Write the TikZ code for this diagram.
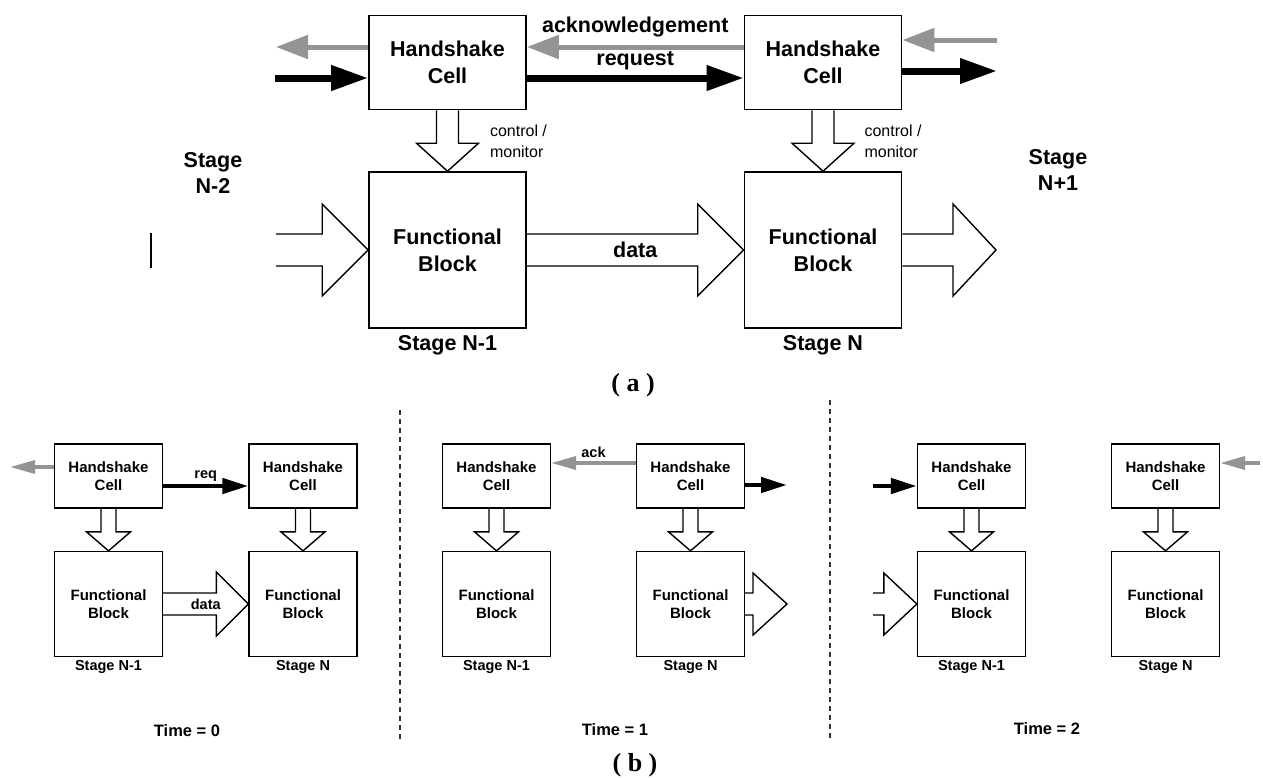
\documentclass[tikz,border=0pt]{standalone}
\usepackage{fontspec}
\setmainfont{Liberation Sans}
\newfontfamily\capfont{Liberation Serif}
\usetikzlibrary{arrows.meta,calc}
\definecolor{ackgray}{gray}{0.58}

\tikzset{
  fat/.style n args={3}{line width=1.4pt,line join=miter,to path={
    ($(\tikztostart)!#1!90:(\tikztotarget)$)
    -- ($($(\tikztotarget)!#3!(\tikztostart)$)!#1!90:(\tikztotarget)$)
    -- ($($(\tikztotarget)!#3!(\tikztostart)$)!#2!90:(\tikztotarget)$)
    -- (\tikztotarget)
    -- ($($(\tikztotarget)!#3!(\tikztostart)$)!#2!-90:(\tikztotarget)$)
    -- ($($(\tikztotarget)!#3!(\tikztostart)$)!#1!-90:(\tikztotarget)$)
    -- ($(\tikztostart)!#1!-90:(\tikztotarget)$)}},
  reqbig/.style={line width=7pt,-{Triangle[length=37pt,width=24pt]}},
  ackbig/.style={draw=ackgray,line width=5pt,-{Triangle[length=32pt,width=23pt]}},
  reqsmall/.style={line width=4.5pt,-{Triangle[length=26pt,width=15pt]}},
  acksmall/.style={draw=ackgray,line width=3.5pt,-{Triangle[length=25pt,width=13pt]}}
}

\begin{document}
\begin{tikzpicture}[x=1pt,y=-1pt,
  hcbig/.style={draw,line width=1.6pt,minimum width=157pt,minimum height=94pt,inner sep=0pt,align=center,font=\fontsize{21.5}{27}\selectfont\bfseries},
  fbbig/.style={hcbig,minimum height=156pt},
  hcsmall/.style={draw,line width=1.3pt,minimum width=108pt,minimum height=64pt,inner sep=0pt,align=center,font=\fontsize{15}{18}\selectfont\bfseries},
  fbsmall/.style={hcsmall,minimum height=105pt},
  lblbig/.style={align=center,inner sep=0pt,font=\fontsize{21.5}{26}\selectfont\bfseries},
  lblsmall/.style={inner sep=0pt,font=\fontsize{14.5}{17}\selectfont\bfseries},
  lbltime/.style={inner sep=0pt,font=\fontsize{16.5}{20}\selectfont\bfseries},
  ctrl/.style={align=left,inner sep=0pt,font=\fontsize{16}{21}\selectfont},
  capt/.style={inner sep=0pt,font=\capfont\fontsize{26}{30}\selectfont\bfseries},
  sep/.style={line width=1.2pt,dash pattern=on 5pt off 4pt,black!80}]

\useasboundingbox (0,0) rectangle (1263,777);

% (a) Nodes
\node[hcbig] (h1) at (447.5,62.5) {Handshake\\Cell};
\node[hcbig,right of=h1,node distance=375.5pt] (h2) {Handshake\\Cell};
\node[fbbig,below of=h1,node distance=187.5pt] (f1) {Functional\\Block};
\node[fbbig,below of=h2,node distance=187.5pt] (f2) {Functional\\Block};
\node[lblbig,below of=f1,node distance=95pt] (sf1) {Stage N-1};
\node[lblbig,below of=f2,node distance=95pt] (sf2) {Stage N};
\node[lblbig] (sn2) at (213,173) {Stage\\N-2};
\node[lblbig] (sn3) at (1058,170) {Stage\\N+1};
\node[ctrl] (c1) at ($(h1.south)+(71,31)$) {control /\\monitor};
\node[ctrl] (c2) at ($(h2.south)+(70,31)$) {control /\\monitor};
\node[lblbig] (dat) at ($(f1.east)!0.5!(f2.west)$) {data};
\node[capt] (capa) at (633,385) {( a )};

\coordinate (gl) at (276,47);
\coordinate (bl) at (275,78);
\coordinate (gr) at (997,40);
\coordinate (br) at (997,71);
\coordinate (din) at (276,250);
\coordinate (dout) at (996,250);

%arcs
\path ([yshift=15.5pt]h1.west) edge[ackbig] (gl);
\path (bl) edge[reqbig] ([yshift=-15.5pt]h1.west);
\path ([yshift=15.5pt]h2.west) edge[ackbig] node[above=7pt,inner sep=0pt,font=\fontsize{21.5}{26}\selectfont\bfseries] (lack) {acknowledgement} ([yshift=15.5pt]h1.east);
\path ([yshift=-15.5pt]h1.east) edge[reqbig] node[above=5pt,inner sep=0pt,font=\fontsize{21.5}{26}\selectfont\bfseries] (lreq) {request} ([yshift=-15.5pt]h2.west);
\path (gr) edge[ackbig] ([yshift=22.5pt]h2.east);
\path ([yshift=-8.5pt]h2.east) edge[reqbig] (br);

\path (h1.south) edge[fat={11pt}{31pt}{28pt}] (f1.north);
\path (h2.south) edge[fat={11pt}{31pt}{28pt}] (f2.north);
\path (din) edge[fat={16pt}{46pt}{46pt}] (f1.west);
\path (f1.east) edge[fat={16pt}{46pt}{46pt}] (f2.west);
\path (f2.east) edge[fat={16pt}{46pt}{43pt}] (dout);

\draw[line width=1.5pt] (151,233) -- (151,268);

% (b) Nodes, time 0
\node[hcsmall] (a0h) at (108.5,476) {Handshake\\Cell};
\node[hcsmall,right of=a0h,node distance=194.5pt] (b0h) {Handshake\\Cell};
\node[fbsmall,below of=a0h,node distance=128pt] (a0f) {Functional\\Block};
\node[fbsmall,below of=b0h,node distance=128pt] (b0f) {Functional\\Block};
\node[lblsmall,below of=a0f,node distance=63pt] (sa0) {Stage N-1};
\node[lblsmall,below of=b0f,node distance=63pt] (sb0) {Stage N};
\node[lblsmall] (dat0) at ($(a0f.east)!0.5!(b0f.west)$) {data};
\node[lbltime] (t0) at (187,731) {Time = 0};

% time 1
\node[hcsmall] (a1h) at (496.5,476) {Handshake\\Cell};
\node[hcsmall,right of=a1h,node distance=194pt] (b1h) {Handshake\\Cell};
\node[fbsmall,below of=a1h,node distance=128pt] (a1f) {Functional\\Block};
\node[fbsmall,below of=b1h,node distance=128pt] (b1f) {Functional\\Block};
\node[lblsmall,below of=a1f,node distance=63pt] (sa1) {Stage N-1};
\node[lblsmall,below of=b1f,node distance=63pt] (sb1) {Stage N};
\node[lbltime] (t1) at (615,730) {Time = 1};

% time 2
\node[hcsmall] (a2h) at (971.5,476) {Handshake\\Cell};
\node[hcsmall,right of=a2h,node distance=194pt] (b2h) {Handshake\\Cell};
\node[fbsmall,below of=a2h,node distance=128pt] (a2f) {Functional\\Block};
\node[fbsmall,below of=b2h,node distance=128pt] (b2f) {Functional\\Block};
\node[lblsmall,below of=a2f,node distance=63pt] (sa2) {Stage N-1};
\node[lblsmall,below of=b2f,node distance=63pt] (sb2) {Stage N};
\node[lbltime] (t2) at (1047,729) {Time = 2};

\node[capt] (capb) at (635,765) {( b )};

\coordinate (p0g) at (10,467);
\coordinate (p1r) at (787,485);
\coordinate (p1o) at (787,604);
\coordinate (p2l) at (873,486);
\coordinate (p2i) at (873,604);
\coordinate (p2g) at (1260,463);

%arcs
\path ([yshift=9pt]a0h.west) edge[acksmall] (p0g);
\path ([yshift=-10pt]a0h.east) edge[reqsmall] node[above=2pt,lblsmall] (lreq0) {req} ([yshift=-10pt]b0h.west);
\path (a0h.south) edge[fat={7.5pt}{22pt}{19pt}] (a0f.north);
\path (b0h.south) edge[fat={7.5pt}{22pt}{19pt}] (b0f.north);
\path (a0f.east) edge[fat={11pt}{32pt}{32pt}] (b0f.west);

\path ([yshift=13pt]b1h.west) edge[acksmall] node[above=3.5pt,lblsmall] (lack1) {ack} ([yshift=13pt]a1h.east);
\path ([yshift=-9pt]b1h.east) edge[reqsmall] (p1r);
\path (a1h.south) edge[fat={7.5pt}{22pt}{19pt}] (a1f.north);
\path (b1h.south) edge[fat={7.5pt}{22pt}{19pt}] (b1f.north);
\path (b1f.east) edge[fat={11pt}{31pt}{34pt}] (p1o);

\path (p2l) edge[reqsmall] ([yshift=-10pt]a2h.west);
\path (p2g) edge[acksmall] ([yshift=13pt]b2h.east);
\path (a2h.south) edge[fat={7.5pt}{22pt}{19pt}] (a2f.north);
\path (b2h.south) edge[fat={7.5pt}{22pt}{19pt}] (b2f.north);
\path (p2i) edge[fat={11pt}{31pt}{33pt}] (a2f.west);

\draw[sep] (400,410) -- (400,740);
\draw[sep] (830,400) -- (830,740);

\end{tikzpicture}
\end{document}
